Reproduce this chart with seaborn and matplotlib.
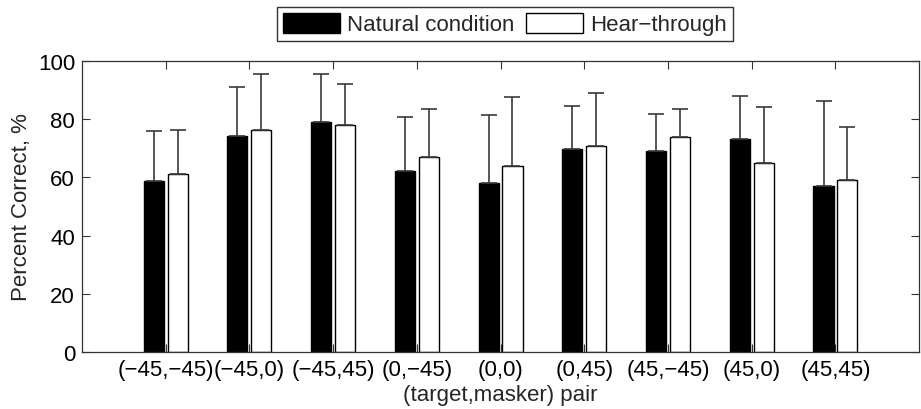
import matplotlib
matplotlib.use("Agg")
import matplotlib.pyplot as plt
import seaborn as sns
import pandas as pd
import numpy as np
from matplotlib.patches import Patch

pairs = ["(\u221245,\u221245)", "(\u221245,0)", "(\u221245,45)", "(0,\u221245)", "(0,0)",
         "(0,45)", "(45,\u221245)", "(45,0)", "(45,45)"]
natural = [58.7, 74.1, 79.0, 62.1, 58.1, 69.8, 69.1, 73.1, 57.2]
natural_sd = [17.1, 17.0, 16.6, 18.7, 23.3, 14.7, 12.7, 14.8, 28.9]
hear = [61.1, 76.1, 78.0, 67.1, 64.0, 70.9, 74.0, 64.9, 59.0]
hear_sd = [15.3, 19.5, 14.0, 16.3, 23.6, 18.1, 9.6, 19.1, 18.4]
conditions = ["Natural condition", "Hear\u2212through"]

sns.set_theme(style="ticks")
plt.rcParams["font.family"] = ["Liberation Sans", "DejaVu Sans"]

df = pd.DataFrame({
    "pair": pairs * 2,
    "value": natural + hear,
    "sd": natural_sd + hear_sd,
    "cond": [conditions[0]] * len(pairs) + [conditions[1]] * len(pairs),
})

fig = plt.figure(figsize=(9.21, 4.10), dpi=100)
ax = fig.add_axes([0.089, 0.139, 0.909, 0.71])

palette = {conditions[0]: "black", conditions[1]: "white"}
sns.barplot(data=df, x="pair", y="value", hue="cond", order=pairs,
            hue_order=conditions, palette=palette, width=0.57, gap=0.16,
            edgecolor="black", linewidth=1.0, errorbar=None, legend=False, ax=ax,
            saturation=1)

# error bars from bar centers
bars = [p for p in ax.patches if p.get_height() > 0]
sd_lookup = {}
for c, vals, sds in [(conditions[0], natural, natural_sd), (conditions[1], hear, hear_sd)]:
    for v, s in zip(vals, sds):
        sd_lookup.setdefault((c, round(v, 3)), s)
for p in bars:
    cx = p.get_x() + p.get_width() / 2
    h = p.get_height()
    fc = p.get_facecolor()
    c = conditions[0] if fc[0] < 0.5 else conditions[1]
    s = sd_lookup[(c, round(h, 3))]
    ax.errorbar(cx, h, yerr=[[0], [s]], fmt="none", ecolor="#3a3a3a",
                elinewidth=1.2, capsize=6, capthick=1.2, zorder=1)

ax.set_xlim(-1, 9)
ax.set_ylim(0, 100)
ax.set_yticks([0, 20, 40, 60, 80, 100])
ax.tick_params(direction="in", length=6, width=0.8, top=True, right=True,
               labelsize=16, colors="#333333", labelcolor="black", pad=5)
for sp in ax.spines.values():
    sp.set_visible(True)
    sp.set_color("#333333")
    sp.set_linewidth(0.9)
ax.set_xlabel("(target,masker) pair", fontsize=16, labelpad=3)
ax.set_ylabel("Percent Correct, %", fontsize=16, labelpad=4)

handles = [Patch(facecolor="black", edgecolor="black"),
           Patch(facecolor="white", edgecolor="black")]
leg = fig.legend(handles, conditions, loc="upper center", bbox_to_anchor=(0.548, 0.981),
                 ncol=2, fontsize=16, frameon=True, fancybox=False,
                 handlelength=2.6, handleheight=1.0, handletextpad=0.3,
                 columnspacing=0.5, borderpad=0.27, borderaxespad=0)
leg.get_frame().set_edgecolor("black")
leg.get_frame().set_linewidth(1.0)

fig.savefig("out.png", dpi=100)
